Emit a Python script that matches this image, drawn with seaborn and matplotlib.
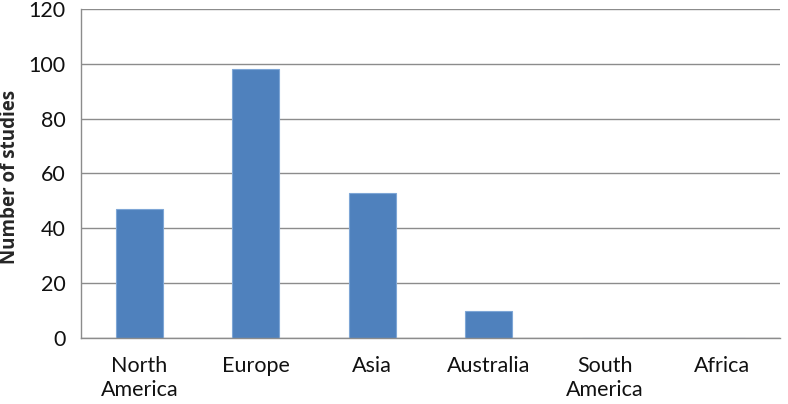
import numpy as np
import pandas as pd
import matplotlib
matplotlib.use("Agg")
import matplotlib.pyplot as plt
import seaborn as sns

regions = ["North\nAmerica", "Europe", "Asia", "Australia", "South\nAmerica", "Africa"]
studies = [47, 98, 53, 10, 0, 0]

df = pd.DataFrame({"region": regions, "studies": studies})

sns.set_style("white")
plt.rcParams["font.family"] = ["Lato", "DejaVu Sans"]

fig = plt.figure(figsize=(7.88, 4.04), dpi=100)
ax = fig.add_axes([0.1028, 0.1634, 0.887, 0.8143])

sns.barplot(data=df, x="region", y="studies", color="#4F81BD", width=0.4,
            edgecolor="#7EA6D6", linewidth=0.8, saturation=1, ax=ax)

ax.set_ylim(0, 120)
ax.set_yticks(np.arange(0, 121, 20))
ax.set_xlim(-0.5, 5.5)
ax.yaxis.grid(True, color="#8C8C8C", linewidth=1.0)
ax.set_axisbelow(True)

for s in ["top", "right"]:
    ax.spines[s].set_visible(False)
for s in ["left", "bottom"]:
    ax.spines[s].set_color("#8C8C8C")
    ax.spines[s].set_linewidth(1.0)

# ticks at category boundaries on the x axis
ax.set_xticks(np.arange(-0.5, 6, 1), minor=True)
ax.tick_params(axis="x", which="major", length=0, pad=13, labelsize=15.5, colors="#111111")
ax.tick_params(axis="x", which="minor", length=6, color="#8C8C8C", direction="out")
ax.tick_params(axis="y", length=6, color="#8C8C8C", direction="out", labelsize=15.5,
               labelcolor="#111111", pad=5)
for lab in ax.get_xticklabels():
    lab.set_linespacing(1.25)

ax.set_xlabel("")
ax.set_ylabel("Number of studies", fontsize=13.5, fontweight="bold",
              family=["Open Sans", "DejaVu Sans"])
ax.yaxis.set_label_coords(-0.087, 0.49)

fig.savefig("out.png", dpi=100)
